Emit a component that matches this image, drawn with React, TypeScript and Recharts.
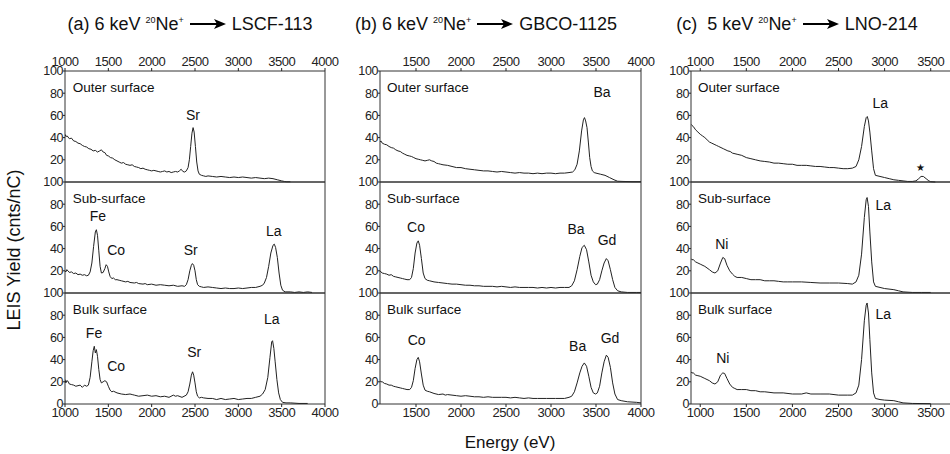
import { LineChart, Line, XAxis, YAxis, ReferenceArea, ReferenceDot } from "recharts";

type Pt = [number, number];
type Mark = [string, number, number]; // text, energy (eV), yield

// (a) LSCF-113
const lscfOuter: Pt[] = [
  [1000, 43], [1010, 41], [1025, 41.5], [1050, 39], [1075, 39.5], [1100, 37], [1125, 36.5], [1150, 35],
  [1175, 34.5], [1200, 33], [1225, 32], [1250, 31.5], [1275, 30], [1300, 29.5], [1325, 28], [1350, 28.5],
  [1375, 27], [1400, 28], [1420, 29], [1440, 27], [1460, 26.5], [1480, 24], [1500, 23.5], [1525, 22],
  [1550, 21.5], [1575, 20], [1600, 19], [1625, 18], [1650, 17], [1675, 17.5], [1700, 16], [1725, 15.5],
  [1750, 15], [1775, 15.5], [1800, 14], [1825, 13.5], [1850, 13], [1875, 12], [1900, 12.5], [1925, 11.5],
  [1950, 11], [1975, 10.5], [2000, 10], [2025, 10.5], [2050, 10], [2075, 9.5], [2100, 9], [2125, 9.5],
  [2150, 10], [2175, 9], [2200, 9.5], [2225, 8.5], [2250, 9], [2275, 9.5], [2300, 9], [2320, 10],
  [2340, 11.5], [2360, 9.5], [2380, 9], [2400, 10], [2420, 13], [2435, 20], [2450, 32], [2465, 44],
  [2478, 49], [2490, 45], [2505, 32], [2520, 18], [2535, 10], [2550, 7], [2575, 6], [2600, 5.5],
  [2625, 5], [2650, 5.5], [2700, 5], [2750, 4.5], [2800, 5], [2850, 4.5], [2900, 4], [2950, 4.5],
  [3000, 4], [3050, 4.5], [3100, 4], [3150, 3.5], [3200, 4], [3250, 3.5], [3300, 3], [3350, 3.5],
  [3400, 3], [3450, 2], [3500, 1], [3530, 0.5], [3560, 0.2], [3600, 0.2],
];
const lscfSub: Pt[] = [
  [1000, 20], [1010, 19], [1020, 21], [1035, 20], [1050, 18.5], [1075, 19], [1100, 17.5], [1125, 18],
  [1150, 16.5], [1175, 17], [1200, 16], [1225, 16.5], [1250, 15.5], [1270, 16], [1290, 19], [1310, 27],
  [1330, 42], [1350, 55], [1362, 57], [1375, 52], [1390, 38], [1405, 24], [1420, 18], [1440, 18.5],
  [1460, 22], [1475, 25.5], [1490, 24], [1505, 19], [1520, 15], [1540, 13], [1560, 13.5], [1580, 12],
  [1600, 12], [1625, 11.5], [1650, 11], [1700, 10], [1725, 10.5], [1750, 9.5], [1800, 9], [1825, 9.5],
  [1850, 8.5], [1900, 8], [1925, 8.5], [1950, 7.5], [2000, 8], [2050, 7], [2100, 7.5], [2150, 7],
  [2200, 6.5], [2250, 7], [2300, 6], [2350, 6.5], [2380, 6], [2400, 7.5], [2420, 12], [2440, 20],
  [2458, 25], [2470, 26.5], [2485, 25], [2500, 20], [2515, 12], [2530, 7.5], [2550, 6], [2575, 5.5],
  [2600, 5], [2650, 5.5], [2700, 5], [2750, 4.5], [2800, 4], [2850, 4.5], [2900, 4], [2950, 4],
  [3000, 4.5], [3050, 4], [3100, 4.5], [3150, 5], [3200, 5], [3250, 6], [3280, 7], [3300, 9],
  [3325, 14], [3350, 24], [3375, 36], [3400, 43], [3415, 44], [3430, 41], [3450, 32], [3470, 18],
  [3490, 7], [3510, 2.5], [3540, 1], [3600, 1], [3650, 0.5], [3700, 1], [3750, 0.5], [3800, 1], [3850, 0.5],
];
const lscfBulk: Pt[] = [
  [1000, 22], [1010, 19], [1020, 21], [1035, 20.5], [1050, 18], [1075, 17.5], [1100, 17], [1125, 16],
  [1150, 16.5], [1175, 17], [1200, 15], [1225, 17], [1250, 16], [1270, 17], [1290, 24], [1310, 38],
  [1325, 48], [1338, 52], [1350, 46], [1362, 49], [1375, 43], [1390, 31], [1405, 22], [1420, 19],
  [1440, 20], [1460, 21], [1480, 20], [1500, 16], [1520, 12.5], [1540, 11], [1560, 11.5], [1600, 10],
  [1650, 9], [1700, 8.5], [1750, 9], [1775, 8.5], [1800, 8], [1850, 7], [1900, 7.5], [1950, 8],
  [2000, 7], [2050, 7.5], [2100, 6.5], [2150, 7], [2200, 6], [2250, 8], [2275, 7], [2300, 7.5],
  [2350, 6], [2400, 8], [2420, 11], [2440, 18], [2458, 26], [2472, 29], [2485, 26], [2500, 19],
  [2515, 11], [2530, 7], [2550, 5.5], [2575, 6], [2600, 5.5], [2650, 5], [2700, 5], [2750, 4],
  [2800, 5], [2850, 4], [2900, 4.5], [2950, 5], [3000, 4], [3050, 4.5], [3100, 5], [3150, 5],
  [3200, 6], [3250, 7], [3280, 9], [3310, 13], [3340, 24], [3365, 42], [3385, 56], [3395, 57],
  [3410, 50], [3425, 38], [3445, 22], [3465, 10], [3485, 4], [3510, 1.5], [3550, 1], [3600, 1],
  [3700, 0.5], [3800, 0.5],
];
const lscfOuterMarks: Mark[] = [["Sr", 2477, 60]];
const lscfSubMarks: Mark[] = [["Fe", 1380, 69], ["Co", 1590, 39], ["Sr", 2450, 39], ["La", 3410, 56]];
const lscfBulkMarks: Mark[] = [["Fe", 1335, 64], ["Co", 1590, 34], ["Sr", 2490, 47], ["La", 3385, 77]];
const lscfTicks = [1000, 1500, 2000, 2500, 3000, 3500, 4000];

// (b) GBCO-1125
const gbcoOuter: Pt[] = [
  [1100, 36], [1110, 37], [1125, 35], [1150, 34], [1175, 33.5], [1200, 32], [1225, 31], [1250, 30.5],
  [1275, 29], [1300, 28], [1325, 27.5], [1350, 26], [1375, 25], [1400, 24], [1425, 23.5], [1450, 23],
  [1475, 22], [1500, 21], [1525, 20.5], [1550, 20], [1575, 19.5], [1600, 19], [1625, 19.5], [1650, 20],
  [1675, 19], [1700, 18.5], [1725, 17], [1750, 16.5], [1775, 16], [1800, 15.5], [1850, 15], [1900, 14],
  [1950, 13], [2000, 13], [2050, 12], [2100, 11.5], [2150, 11], [2200, 10.5], [2250, 10], [2300, 10],
  [2350, 9.5], [2400, 9], [2450, 9.5], [2500, 9], [2550, 8.5], [2600, 8], [2650, 8.5], [2700, 8],
  [2750, 8], [2800, 7.5], [2850, 8], [2900, 7.5], [2950, 8], [3000, 8], [3050, 7.5], [3100, 8],
  [3150, 8], [3200, 8.5], [3240, 9], [3265, 11], [3290, 16], [3315, 28], [3340, 46], [3360, 56],
  [3372, 58], [3385, 55], [3400, 49], [3415, 36], [3430, 22], [3445, 14], [3460, 10], [3480, 8.5],
  [3500, 8], [3550, 7], [3600, 6], [3650, 4], [3700, 2], [3740, 0.7], [3800, 0.5], [3900, 0.3], [4000, 0.3],
];
const gbcoSub: Pt[] = [
  [1100, 20], [1110, 19], [1125, 18], [1150, 17.5], [1175, 17], [1200, 16], [1225, 16.5], [1250, 15],
  [1275, 14.5], [1300, 14], [1325, 13.5], [1350, 13], [1375, 12.5], [1400, 12], [1430, 12], [1450, 14],
  [1470, 22], [1490, 36], [1510, 45], [1525, 47], [1540, 43], [1560, 31], [1580, 18], [1600, 13],
  [1625, 11.5], [1650, 11], [1700, 10], [1750, 9.5], [1800, 9], [1850, 8.5], [1900, 8], [1950, 8],
  [2000, 7.5], [2050, 7], [2100, 7], [2150, 6.5], [2200, 6.5], [2250, 6], [2300, 6], [2350, 6],
  [2400, 5.5], [2450, 6], [2500, 5.5], [2550, 5], [2600, 5.5], [2650, 5], [2700, 5], [2750, 5],
  [2800, 5], [2850, 4.5], [2900, 5], [2950, 4.5], [3000, 5], [3050, 4.5], [3100, 5], [3150, 5],
  [3200, 5], [3230, 6.5], [3260, 11], [3290, 21], [3320, 33], [3345, 41], [3370, 43], [3395, 39],
  [3420, 28], [3445, 16], [3470, 10], [3495, 7.5], [3515, 8], [3540, 12], [3565, 20], [3590, 27],
  [3615, 31], [3635, 29], [3660, 21], [3685, 12], [3710, 5], [3740, 2], [3780, 1], [3850, 0.5], [3950, 0.5], [4000, 0.5],
];
const gbcoBulk: Pt[] = [
  [1100, 21], [1110, 20], [1125, 20], [1150, 18.5], [1175, 18], [1200, 17], [1225, 17], [1250, 16],
  [1275, 15.5], [1300, 15], [1325, 14.5], [1350, 14], [1375, 13.5], [1400, 13], [1430, 13], [1450, 15],
  [1470, 21], [1490, 32], [1510, 40], [1525, 42], [1540, 38], [1560, 27], [1580, 17], [1600, 12.5],
  [1625, 11.5], [1650, 11], [1700, 9.5], [1750, 8.5], [1800, 9], [1825, 8], [1850, 8.5], [1900, 8],
  [1950, 7.5], [2000, 7], [2050, 7.5], [2100, 7], [2150, 6.5], [2200, 6.5], [2250, 6], [2300, 6.5],
  [2350, 6], [2400, 6], [2450, 6], [2500, 6], [2550, 5.5], [2600, 6], [2650, 5.5], [2700, 5],
  [2750, 5.5], [2800, 5], [2850, 5], [2900, 5], [2950, 5], [3000, 5], [3050, 5], [3100, 5],
  [3150, 5], [3200, 6], [3230, 7], [3260, 11], [3290, 19], [3320, 28], [3345, 34], [3370, 37],
  [3395, 34], [3420, 25], [3445, 15], [3470, 10], [3495, 9], [3515, 10], [3540, 16], [3565, 28],
  [3590, 38], [3615, 44], [3635, 42], [3660, 33], [3685, 19], [3710, 9], [3740, 4], [3780, 3],
  [3850, 2], [3950, 1.5], [4000, 1],
];
const gbcoOuterMarks: Mark[] = [["Ba", 3567, 81]];
const gbcoSubMarks: Mark[] = [["Co", 1500, 59], ["Ba", 3278, 58], ["Gd", 3622, 48]];
const gbcoBulkMarks: Mark[] = [["Co", 1507, 58], ["Ba", 3296, 52], ["Gd", 3656, 59]];
const gbcoTicks = [1500, 2000, 2500, 3000, 3500, 4000];

// (c) LNO-214
const lnoOuter: Pt[] = [
  [900, 52], [910, 51], [925, 50], [950, 47], [975, 45], [1000, 43], [1025, 41.5], [1050, 40],
  [1075, 38], [1100, 36], [1125, 35], [1150, 34], [1175, 33], [1200, 32], [1250, 30], [1300, 28],
  [1325, 27.5], [1350, 26], [1400, 25], [1450, 24], [1500, 22], [1550, 21], [1600, 20], [1650, 19],
  [1700, 18.5], [1750, 18], [1800, 17], [1850, 17], [1900, 16.5], [1950, 16], [2000, 16], [2050, 15],
  [2100, 15], [2150, 15], [2200, 14.5], [2250, 14], [2300, 14], [2350, 13.5], [2400, 13], [2450, 13],
  [2500, 12.5], [2550, 12], [2600, 12], [2650, 12.5], [2690, 14], [2720, 20], [2750, 32], [2780, 50],
  [2800, 58], [2812, 59], [2825, 55], [2840, 45], [2860, 28], [2880, 12], [2900, 6], [2950, 5],
  [3000, 4], [3050, 3], [3100, 2], [3150, 1.5], [3200, 1], [3250, 0.5], [3300, 0.5], [3340, 1],
  [3370, 3], [3395, 5], [3420, 5], [3450, 3], [3480, 1], [3500, 0.3], [3550, 0],
];
const lnoSub: Pt[] = [
  [900, 31], [910, 30], [925, 30], [950, 28], [975, 27], [1000, 26], [1050, 24], [1100, 21],
  [1130, 19], [1160, 18], [1190, 20], [1220, 27], [1245, 32], [1265, 31], [1290, 25], [1320, 20],
  [1350, 17], [1375, 15], [1400, 14], [1450, 14], [1500, 13], [1550, 12], [1600, 12], [1650, 12],
  [1700, 11], [1750, 11], [1800, 11], [1850, 10.5], [1900, 10], [1950, 10], [2000, 10], [2100, 10],
  [2200, 9.5], [2300, 9], [2400, 9], [2500, 9], [2600, 8.5], [2650, 8], [2690, 10], [2720, 16],
  [2750, 35], [2780, 68], [2800, 84], [2810, 86], [2825, 78], [2840, 55], [2860, 28], [2880, 10],
  [2900, 6], [2950, 5], [3000, 4], [3100, 3], [3150, 2], [3200, 1], [3300, 0.5], [3400, 0.5], [3500, 0.5],
];
const lnoBulk: Pt[] = [
  [900, 29], [910, 28], [925, 28], [950, 26], [975, 25.5], [1000, 25], [1050, 23], [1100, 21],
  [1130, 19], [1160, 18], [1190, 20], [1220, 26], [1245, 28], [1265, 27.5], [1290, 23], [1320, 18],
  [1350, 15], [1375, 14], [1400, 13], [1450, 13], [1500, 13], [1550, 12], [1600, 12], [1650, 11],
  [1700, 11], [1800, 10], [1900, 10], [2000, 9], [2100, 9], [2150, 10], [2200, 9], [2300, 9],
  [2400, 9], [2500, 8], [2600, 8], [2650, 8], [2690, 10], [2720, 17], [2750, 40], [2780, 75],
  [2800, 89], [2810, 91], [2825, 82], [2840, 58], [2860, 28], [2880, 10], [2900, 5], [2950, 4],
  [3000, 3.5], [3100, 3], [3150, 2], [3200, 1], [3300, 0.5], [3500, 0.3],
];
const lnoOuterMarks: Mark[] = [["La", 2954, 71], ["\u2605", 3392, 13]];
const lnoSubMarks: Mark[] = [["Ni", 1234, 44], ["La", 2986, 79]];
const lnoBulkMarks: Mark[] = [["Ni", 1245, 41], ["La", 2986, 81]];
const lnoTicks = [1000, 1500, 2000, 2500, 3000, 3500];

const rowTitles = ["Outer surface", "Sub-surface", "Bulk surface"];
const yTicksUpper = [20, 40, 60, 80, 100];
const yTicksLower = [0, 20, 40, 60, 80, 100];

type Panel = {
  tag: string;
  energy: string;
  target: string;
  cx: number;
  left: number;
  width: number;
  domain: [number, number];
  ticks: number[];
  titleE: number;
  rows: [Pt[], Mark[]][];
};

const panels: Panel[] = [
  {
    tag: "(a)", energy: "6 keV", target: "LSCF-113", cx: 190,
    left: 65, width: 260, domain: [1000, 4000], ticks: lscfTicks, titleE: 1090,
    rows: [[lscfOuter, lscfOuterMarks], [lscfSub, lscfSubMarks], [lscfBulk, lscfBulkMarks]],
  },
  {
    tag: "(b)", energy: "6 keV", target: "GBCO-1125", cx: 486,
    left: 380, width: 261, domain: [1100, 4000], ticks: gbcoTicks, titleE: 1178,
    rows: [[gbcoOuter, gbcoOuterMarks], [gbcoSub, gbcoSubMarks], [gbcoBulk, gbcoBulkMarks]],
  },
  {
    tag: "(c)", energy: "\u00a05 keV", target: "LNO-214", cx: 797,
    left: 691, width: 260, domain: [900, 3720], ticks: lnoTicks, titleE: 976,
    rows: [[lnoOuter, lnoOuterMarks], [lnoSub, lnoSubMarks], [lnoBulk, lnoBulkMarks]],
  },
];

const FONT = '"Liberation Sans", Arial, Helvetica, sans-serif';
const INK = "#222";
const ROW_TOP = 71;
const ROW_H = 111;
const Y_W = 30;
const PAD = 9; // room so edge tick labels are not cut
const PAD_R = 24;

const xTick = { fontSize: 13, fill: INK, letterSpacing: -0.5 };
const yTick = { fontSize: 12.5, fill: INK, letterSpacing: -0.4 };

function SpectrumRow({ p, i }: { p: Panel; i: number }) {
  const [series, marks] = p.rows[i];
  const first = i === 0;
  const last = i === 2;
  const topH = first ? 20 : 0;
  const botH = last ? 20 : 0;
  const data = series.map(([e, v]) => ({ e, v }));
  const [x0, x1] = p.domain;

  return (
    <div style={{ position: "absolute", left: p.left - Y_W, top: ROW_TOP + i * ROW_H - topH - PAD }}>
      <LineChart
        width={Y_W + p.width + PAD_R}
        height={ROW_H + topH + botH + 2 * PAD}
        data={data}
        margin={{ top: PAD, right: PAD_R, bottom: PAD, left: 0 }}
      >
        <XAxis
          xAxisId="x"
          dataKey="e"
          type="number"
          domain={p.domain}
          ticks={p.ticks}
          interval={0}
          allowDataOverflow
          hide={!last}
          height={botH}
          axisLine={false}
          tickSize={3}
          tickLine={{ stroke: INK }}
          tickMargin={1}
          tick={xTick}
        />
        {first && (
          <XAxis
            xAxisId="top"
            orientation="top"
            dataKey="e"
            type="number"
            domain={p.domain}
            ticks={p.ticks}
            interval={0}
            allowDataOverflow
            height={topH}
            axisLine={false}
            tickSize={3}
            tickLine={{ stroke: INK }}
            tickMargin={2}
            tick={xTick}
          />
        )}
        <YAxis
          yAxisId="y"
          type="number"
          domain={[0, 100]}
          ticks={last ? yTicksLower : yTicksUpper}
          interval={0}
          width={Y_W}
          axisLine={false}
          tickSize={2}
          tickLine={{ stroke: INK }}
          tickMargin={0}
          tick={yTick}
        />
        <ReferenceArea
          xAxisId="x"
          yAxisId="y"
          x1={x0}
          x2={x1}
          y1={0}
          y2={100}
          fill="none"
          fillOpacity={0}
          stroke="#333"
          strokeWidth={1}
          ifOverflow="visible"
        />
        <Line
          xAxisId="x"
          yAxisId="y"
          type="linear"
          dataKey="v"
          stroke={INK}
          strokeWidth={1}
          dot={false}
          isAnimationActive={false}
        />
        <ReferenceDot
          xAxisId="x"
          yAxisId="y"
          x={p.titleE}
          y={85}
          r={0}
          stroke="none"
          label={{ value: rowTitles[i], position: "right", offset: 0, fontSize: 13.5, fill: "#111" }}
        />
        {marks.map(([text, e, v]) => (
          <ReferenceDot
            key={text + e}
            xAxisId="x"
            yAxisId="y"
            x={e}
            y={v}
            r={0}
            stroke="none"
            label={{ value: text, position: "center", fontSize: text === "\u2605" ? 10 : 14, fill: "#111" }}
          />
        ))}
      </LineChart>
    </div>
  );
}

function Arrow() {
  return (
    <svg width={36} height={12} style={{ verticalAlign: "middle", margin: "0 6px 2px 6px" }}>
      <line x1={0} y1={6} x2={28} y2={6} stroke="#000" strokeWidth={2} />
      <polygon points="24,1 36,6 24,11 27,6" fill="#000" />
    </svg>
  );
}

export default function App() {
  return (
    <div
      style={{
        position: "absolute",
        left: 0,
        top: 0,
        width: 950,
        height: 454,
        overflow: "hidden",
        background: "#fff",
        fontFamily: FONT,
        color: "#111",
      }}
    >
      {panels.map((p) => (
        <div
          key={p.tag + "t"}
          style={{
            position: "absolute",
            left: p.cx - 160,
            width: 320,
            top: 8,
            textAlign: "center",
            fontSize: 18,
            whiteSpace: "nowrap",
            lineHeight: "24px",
          }}
        >
          {p.tag} {p.energy}{" "}
          <sup style={{ fontSize: 9 }}>20</sup>Ne<sup style={{ fontSize: 9 }}>+</sup>
          <Arrow />
          {p.target}
        </div>
      ))}
      {panels.map((p) => [0, 1, 2].map((i) => <SpectrumRow key={p.tag + i} p={p} i={i} />))}
      <div
        style={{
          position: "absolute",
          left: 14,
          top: 250,
          transform: "translate(-50%, -50%) rotate(-90deg)",
          fontSize: 18,
          whiteSpace: "nowrap",
        }}
      >
        LEIS Yield (cnts/nC)
      </div>
      <div
        style={{
          position: "absolute",
          left: 510,
          top: 443,
          transform: "translate(-50%, -50%)",
          fontSize: 17,
          whiteSpace: "nowrap",
        }}
      >
        Energy (eV)
      </div>
    </div>
  );
}
